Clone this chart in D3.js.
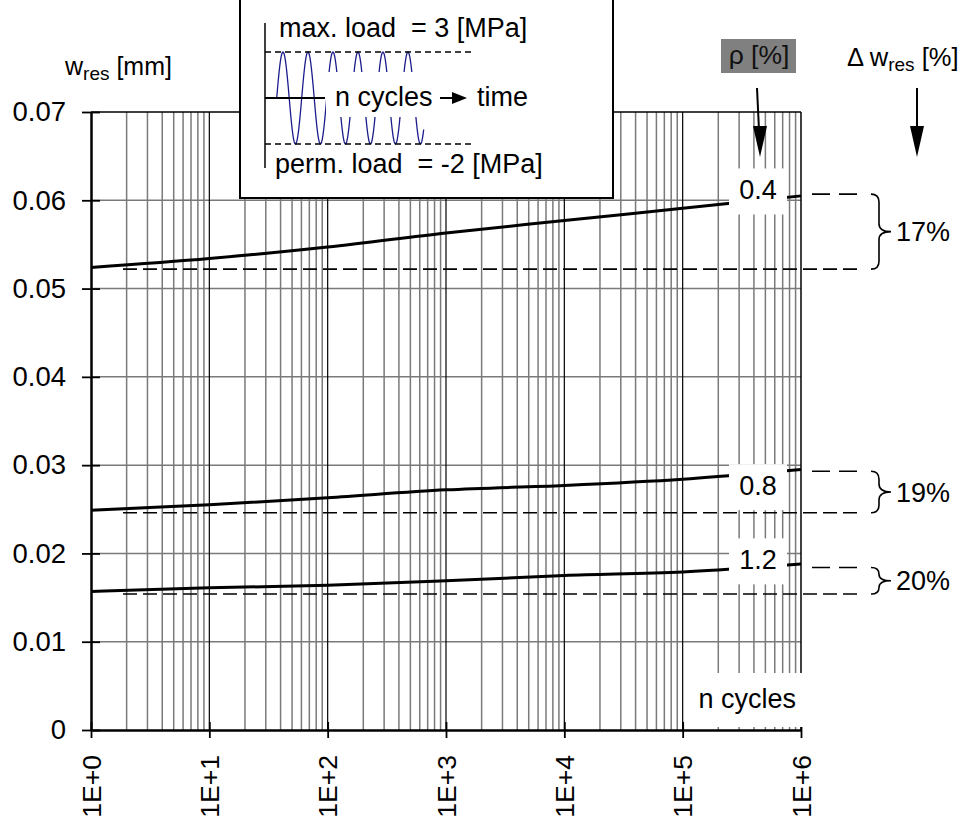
<!DOCTYPE html>
<html>
<head>
<meta charset="utf-8">
<script src="https://cdn.jsdelivr.net/npm/d3@7"></script>
<style>
  body { margin: 0; background: #fff; }
  text { font-family: "Liberation Sans", Arial, sans-serif; }
</style>
</head>
<body>
<div id="chart"></div>
<script>
// Number of load cycles (log axis)
const nCycles = [1, 10, 100, 1000, 10000, 100000, 1000000];

// Residual deflection w_res [mm] for each reinforcement ratio rho
const wRho04 = [0.0524, 0.0534, 0.0547, 0.0563, 0.0577, 0.0591, 0.0605];
const wRho08 = [0.0249, 0.0255, 0.0263, 0.0272, 0.0277, 0.0284, 0.0295];
const wRho12 = [0.0157, 0.0161, 0.0164, 0.0169, 0.0175, 0.0179, 0.0188];

// Reference levels (first cycle / last cycle) and increase in %
const wFirst = [0.0522, 0.0246, 0.0154];
const wLast = [0.0607, 0.0293, 0.0184];
const deltaLabels = ['17%', '19%', '20%'];

// Labels for the rho values and the level they sit at
const rhoLabels = ['0.4', '0.8', '1.2'];
const rhoLabelAt = [0.0610, 0.0275, 0.0191];

// Tick values
const yTicks = [0, 0.01, 0.02, 0.03, 0.04, 0.05, 0.06, 0.07];
const xTicks = [1, 10, 100, 1000, 10000, 100000, 1000000];
const xTickLabels = ['1E+0', '1E+1', '1E+2', '1E+3', '1E+4', '1E+5', '1E+6'];

const width = 962;
const height = 821;
const margin = { top: 112, right: 161, bottom: 91, left: 91 };
const fontSize = 27;

const svg = d3.select('#chart')
    .append('svg')
    .attr('width', width)
    .attr('height', height);

const x = d3.scaleLog()
    .domain([1, 1000000])
    .range([margin.left, width - margin.right]);

const y = d3.scaleLinear()
    .domain([0, 0.07])
    .range([height - margin.bottom, margin.top]);

// Grid: horizontal lines
svg.append('g')
    .selectAll('line')
    .data(yTicks.filter(d => d > 0 && d < 0.07))
    .join('line')
    .attr('x1', x(1))
    .attr('x2', x(1000000))
    .attr('y1', d => y(d))
    .attr('y2', d => y(d))
    .attr('stroke', '#7a7a7a')
    .attr('stroke-width', 1.5);

// Grid: vertical lines, minor in grey, decades in black
const isDecade = d => Math.abs(Math.log10(d) - Math.round(Math.log10(d))) < 1e-9;
svg.append('g')
    .selectAll('line')
    .data(x.ticks().filter(d => d > 1 && d < 1000000))
    .join('line')
    .attr('x1', d => x(d))
    .attr('x2', d => x(d))
    .attr('y1', y(0.07))
    .attr('y2', y(0))
    .attr('stroke', d => isDecade(d) ? '#000' : '#7a7a7a')
    .attr('stroke-width', d => isDecade(d) ? 1.2 : 1.5);

// Frame top and right
svg.append('line')
    .attr('x1', x(1)).attr('x2', x(1000000))
    .attr('y1', y(0.07)).attr('y2', y(0.07))
    .attr('stroke', '#000').attr('stroke-width', 1.5);
svg.append('line')
    .attr('x1', x(1000000)).attr('x2', x(1000000))
    .attr('y1', y(0.07)).attr('y2', y(0))
    .attr('stroke', '#000').attr('stroke-width', 1.5);

// Dashed level of the first cycle
svg.append('g')
    .selectAll('line')
    .data(wFirst)
    .join('line')
    .attr('x1', 123)
    .attr('x2', 858)
    .attr('y1', d => y(d))
    .attr('y2', d => y(d))
    .attr('stroke', '#000')
    .attr('stroke-width', 1.6)
    .attr('stroke-dasharray', '14,6');

// Curves
const line = d3.line()
    .x((d, i) => x(nCycles[i]))
    .y(d => y(d))
    .curve(d3.curveMonotoneX);

svg.append('g')
    .selectAll('path')
    .data([wRho04, wRho08, wRho12])
    .join('path')
    .attr('d', d => line(d))
    .attr('fill', 'none')
    .attr('stroke', '#000')
    .attr('stroke-width', 3);

// Rho labels on white boxes
svg.append('g')
    .selectAll('rect')
    .data(rhoLabelAt)
    .join('rect')
    .attr('x', 729)
    .attr('y', d => y(d) - 23)
    .attr('width', 58)
    .attr('height', 46)
    .attr('fill', '#fff');

svg.append('g')
    .selectAll('text')
    .data(rhoLabels)
    .join('text')
    .attr('x', 758)
    .attr('y', (d, i) => y(rhoLabelAt[i]) - 2)
    .attr('dy', '0.35em')
    .attr('text-anchor', 'middle')
    .style('font-size', fontSize + 'px')
    .text(d => d);

// Dashed level of the last cycle
svg.append('g')
    .selectAll('line')
    .data(wLast)
    .join('line')
    .attr('x1', 812)
    .attr('x2', 858)
    .attr('y1', d => y(d))
    .attr('y2', d => y(d))
    .attr('stroke', '#000')
    .attr('stroke-width', 1.6)
    .attr('stroke-dasharray', '18,9');

// Curly braces and percentages
function brace(x0, yTop, yBot) {
    const xm = x0 + 8, tip = x0 + 20, ym = (yTop + yBot) / 2;
    const r = Math.min(8, (yBot - yTop) / 4);
    return `M${x0},${yTop} Q${xm},${yTop} ${xm},${yTop + r} L${xm},${ym - r} ` +
        `Q${xm},${ym} ${tip},${ym} Q${xm},${ym} ${xm},${ym + r} ` +
        `L${xm},${yBot - r} Q${xm},${yBot} ${x0},${yBot}`;
}

svg.append('g')
    .selectAll('path')
    .data(wFirst)
    .join('path')
    .attr('d', (d, i) => brace(871, y(wLast[i]), y(d)))
    .attr('fill', 'none')
    .attr('stroke', '#000')
    .attr('stroke-width', 1.6);

svg.append('g')
    .selectAll('text')
    .data(deltaLabels)
    .join('text')
    .attr('x', 896)
    .attr('y', (d, i) => (y(wFirst[i]) + y(wLast[i])) / 2)
    .attr('dy', '0.35em')
    .style('font-size', fontSize + 'px')
    .text(d => d);

// Axes
const yAxis = svg.append('g')
    .attr('transform', `translate(${x(1)},0)`)
    .call(d3.axisLeft(y)
        .tickValues(yTicks)
        .tickSize(9)
        .tickSizeOuter(0)
        .tickPadding(16)
        .tickFormat(d => d === 0 ? '0' : d.toFixed(2)));
yAxis.select('.domain').attr('stroke-width', 2.5);
yAxis.selectAll('.tick line').attr('x1', 9).attr('stroke-width', 1.8);
yAxis.selectAll('.tick text')
    .style('font-size', '27.5px')
    .attr('fill', '#000');

const xAxis = svg.append('g')
    .attr('transform', `translate(0,${y(0)})`)
    .call(d3.axisBottom(x)
        .tickValues(xTicks)
        .tickSize(8)
        .tickSizeOuter(0)
        .tickFormat((d, i) => xTickLabels[i]));
xAxis.select('.domain').attr('stroke-width', 2.5);
xAxis.selectAll('.tick line').attr('y1', -8).attr('stroke-width', 1.8);
xAxis.selectAll('.tick text')
    .attr('transform', 'rotate(-90)')
    .attr('x', -25)
    .attr('y', 0)
    .attr('dy', '0.35em')
    .attr('text-anchor', 'end')
    .style('font-size', '26.5px')
    .attr('fill', '#000');

// "n cycles" label in the lower right corner
svg.append('rect')
    .attr('x', 692).attr('y', 673)
    .attr('width', 112).attr('height', 54)
    .attr('fill', '#fff');
svg.append('text')
    .attr('x', 796).attr('y', 708)
    .attr('text-anchor', 'end')
    .style('font-size', fontSize + 'px')
    .text('n cycles');

// Axis title w_res [mm]
const yTitle = svg.append('text')
    .attr('x', 65).attr('y', 75)
    .style('font-size', '25px');
yTitle.append('tspan').text('w');
yTitle.append('tspan').attr('dy', 5).style('font-size', '19px').text('res');
yTitle.append('tspan').attr('dy', -5).text(' [mm]');

// rho [%] header on grey box
svg.append('rect')
    .attr('x', 721).attr('y', 39)
    .attr('width', 75).attr('height', 34)
    .attr('fill', '#808080');
svg.append('text')
    .attr('x', 759).attr('y', 64)
    .attr('text-anchor', 'middle')
    .style('font-size', '26.5px')
    .attr('fill', '#111')
    .text('ρ [%]');

// Delta w_res [%] header
const dTitle = svg.append('text')
    .attr('x', 847).attr('y', 66)
    .style('font-size', '25.5px');
dTitle.append('tspan').text('Δ w');
dTitle.append('tspan').attr('dy', 5).style('font-size', '19px').text('res');
dTitle.append('tspan').attr('dy', -5).text(' [%]');

// Arrows pointing down
function arrow(x1, y1, x2, y2) {
    svg.append('line')
        .attr('x1', x1).attr('y1', y1)
        .attr('x2', x2 - (x2 - x1) * 0.3).attr('y2', y2 - 25)
        .attr('stroke', '#000').attr('stroke-width', 2);
    svg.append('path')
        .attr('d', `M${x2 - 7},${y2 - 31} L${x2 + 7},${y2 - 31} L${x2},${y2} Z`)
        .attr('fill', '#000');
}
arrow(757, 88, 760, 157);
arrow(917, 88, 917, 157);

// Inset: loading scheme
const inset = svg.append('g');
inset.append('rect')
    .attr('x', 240).attr('y', -5)
    .attr('width', 373).attr('height', 203)
    .attr('fill', '#fff')
    .attr('stroke', '#000')
    .attr('stroke-width', 2);

// sine load signal (schematic)
const sineStart = 276.7, sinePeriod = 25, sineEnd = 424;
const sinePts = d3.range(sineStart, sineEnd, 0.5)
    .map(t => [t, 98 - 46 * Math.sin(2 * Math.PI * (t - sineStart) / sinePeriod)]);
inset.append('path')
    .attr('d', d3.line()(sinePts))
    .attr('fill', 'none')
    .attr('stroke', '#1c1c8c')
    .attr('stroke-width', 1.3);

inset.append('rect')
    .attr('x', 326).attr('y', 72)
    .attr('width', 110).attr('height', 45)
    .attr('fill', '#fff');

inset.append('line')
    .attr('x1', 265).attr('x2', 265)
    .attr('y1', 23).attr('y2', 168)
    .attr('stroke', '#000').attr('stroke-width', 1.5);
inset.append('line')
    .attr('x1', 265).attr('x2', 325)
    .attr('y1', 98).attr('y2', 98)
    .attr('stroke', '#000').attr('stroke-width', 2);
inset.selectAll('.lvl')
    .data([52, 144])
    .join('line')
    .attr('class', 'lvl')
    .attr('x1', 265).attr('x2', 471)
    .attr('y1', d => d).attr('y2', d => d)
    .attr('stroke', '#000').attr('stroke-width', 1.5)
    .attr('stroke-dasharray', '6,4');

inset.append('text')
    .attr('x', 279).attr('y', 37)
    .style('font-size', fontSize + 'px')
    .style('white-space', 'pre')
    .text('max. load  = 3 [MPa]');
inset.append('text')
    .attr('x', 275).attr('y', 173)
    .style('font-size', fontSize + 'px')
    .style('white-space', 'pre')
    .text('perm. load  = -2 [MPa]');
inset.append('text')
    .attr('x', 335).attr('y', 106)
    .style('font-size', fontSize + 'px')
    .text('n cycles');
inset.append('line')
    .attr('x1', 440).attr('x2', 455)
    .attr('y1', 98).attr('y2', 98)
    .attr('stroke', '#000').attr('stroke-width', 2);
inset.append('path')
    .attr('d', 'M452,92 L452,104 L467,98 Z')
    .attr('fill', '#000');
inset.append('text')
    .attr('x', 477).attr('y', 106)
    .style('font-size', fontSize + 'px')
    .text('time');
</script>
</body>
</html>
